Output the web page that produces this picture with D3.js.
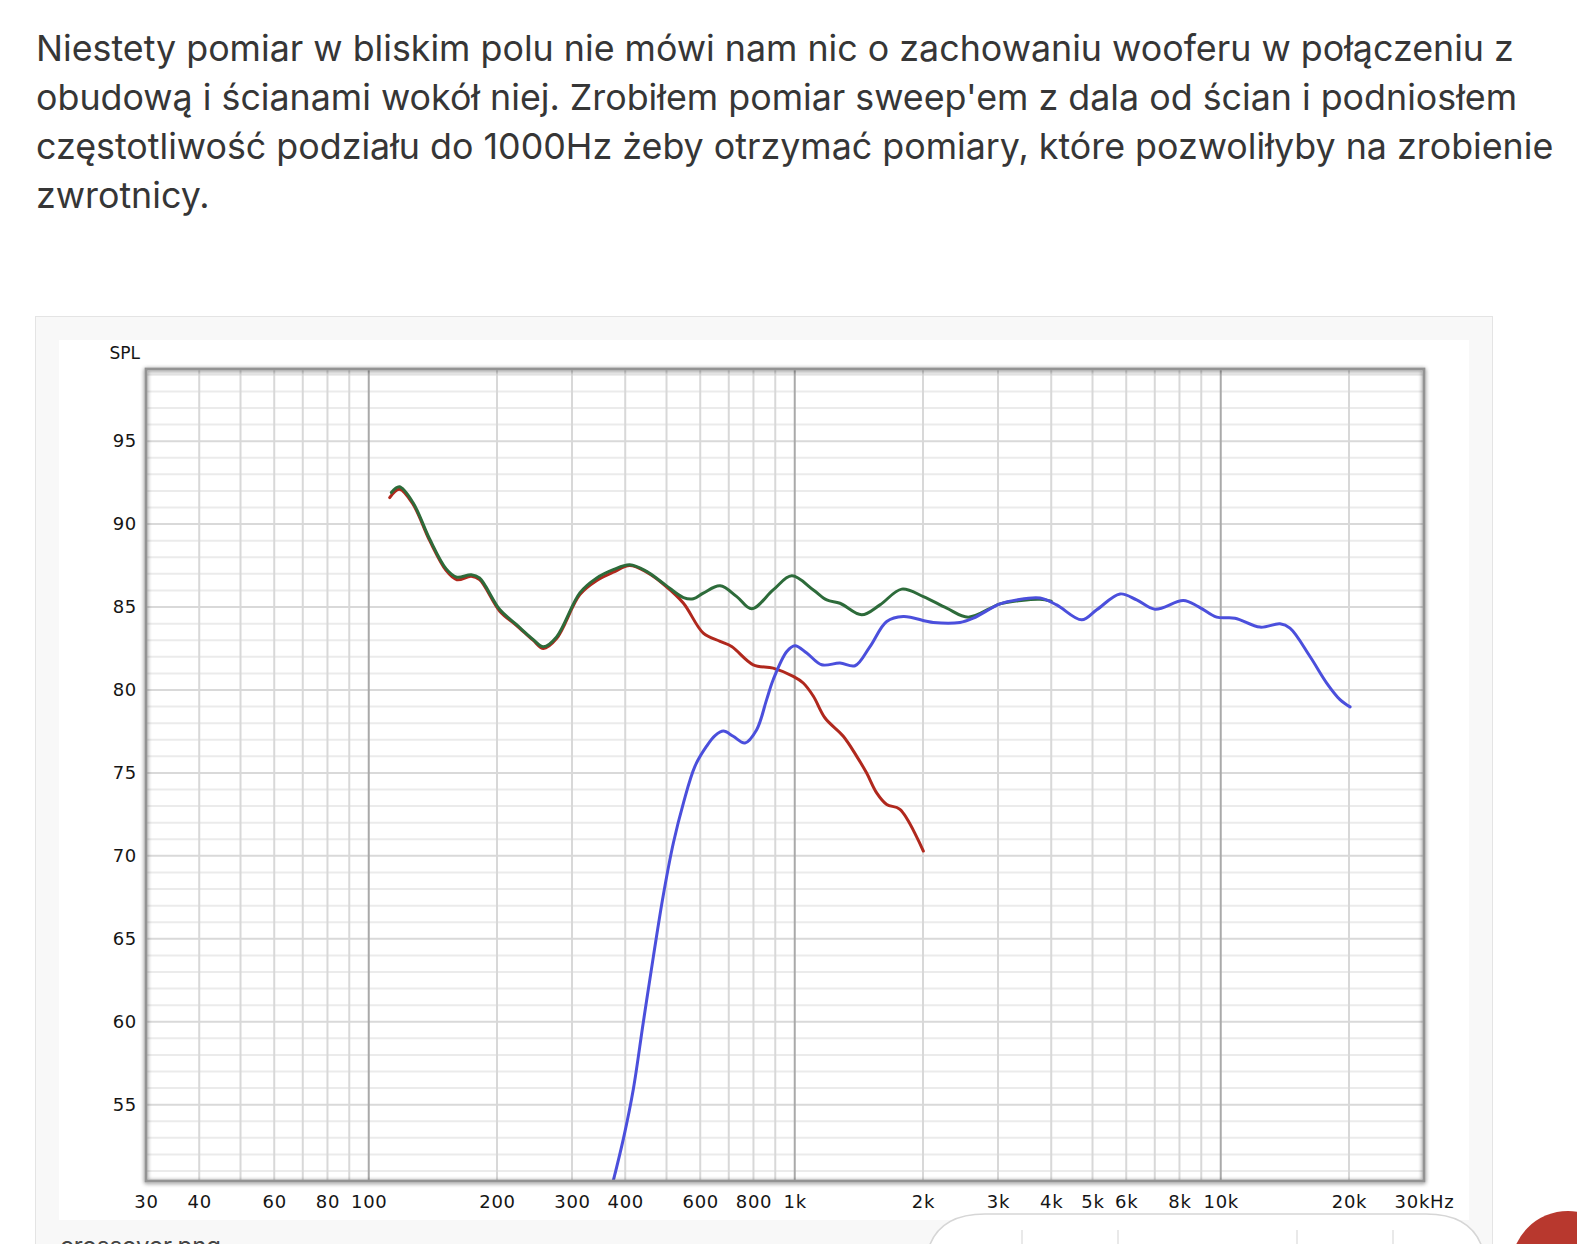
<!DOCTYPE html>
<html>
<head>
<meta charset="utf-8">
<script src="https://cdn.jsdelivr.net/npm/d3@7"></script>
<style>
  html, body { margin: 0; padding: 0; background: #ffffff; }
  svg { display: block; }
</style>
</head>
<body>
<svg id="chart" width="1577" height="1244"></svg>
<script>
// ---------- data ----------
const titleLines = [
  "Niestety pomiar w bliskim polu nie mówi nam nic o zachowaniu wooferu w połączeniu z",
  "obudową i ścianami wokół niej. Zrobiłem pomiar sweep'em z dala od ścian i podniosłem",
  "częstotliwość podziału do 1000Hz żeby otrzymać pomiary, które pozwoliłyby na zrobienie",
  "zwrotnicy."
];

const xTickValues = [30,40,60,80,100,200,300,400,600,800,1000,2000,3000,4000,5000,6000,8000,10000,20000,30000];
const xTickLabels = ["30","40","60","80","100","200","300","400","600","800","1k","2k","3k","4k","5k","6k","8k","10k","20k","30kHz"];
const minorGridFreqs = [40,50,60,70,80,90,200,300,400,500,600,700,800,900,2000,3000,4000,5000,6000,7000,8000,9000,20000];
const decadeGridFreqs = [100,1000,10000];
const yTickValues = [55,60,65,70,75,80,85,90,95];
const yTickLabels = ["55","60","65","70","75","80","85","90","95"];
const yAxisTitle = "SPL";

// red: woofer (lowpass)
const redFreq = [112,118,127,139,152,161,174,182,203,222,243,257,276,313,343,375,410,449,496,548,610,668,711,799,890,992,1047,1106,1178,1300,1398,1475,1557,1644,1766,2004];
const redSPL  = [91.6,92.1,91.2,89.0,87.2,86.65,86.85,86.65,84.75,83.9,83.0,82.5,83.1,85.75,86.6,87.1,87.5,87.1,86.3,85.23,83.43,82.93,82.62,81.52,81.32,80.82,80.42,79.62,78.31,77.21,76.0,74.99,73.8,73.1,72.8,70.29];

// green: summed response
const greenFreq = [113,118,127,139,152,161,174,182,203,222,243,257,276,313,343,375,410,449,496,548,578,610,668,731,792,890,984,1106,1189,1277,1436,1585,1783,2004,2274,2555,3033,3400,3765,4000];
const greenSPL  = [91.9,92.25,91.3,89.1,87.3,86.8,86.95,86.75,84.85,83.95,83.05,82.6,83.2,85.85,86.75,87.25,87.55,87.15,86.35,85.57,85.5,85.84,86.28,85.63,84.89,86.03,86.88,86.03,85.43,85.23,84.53,85.13,86.08,85.63,84.93,84.39,85.19,85.4,85.47,85.35];

// blue: tweeter (highpass)
const blueFreq = [374,396,418,441,466,491,519,548,583,621,650,680,717,764,814,859,890,958,1001,1067,1157,1277,1385,1502,1644,1798,2115,2443,2625,3033,3319,3765,4119,4717,5115,5801,6348,7008,8169,8856,9784,10797,12364,13777,14538,16200,17730,19050,20118];
const blueSPL  = [50.3,52.94,55.95,59.96,63.97,67.58,70.79,73.2,75.4,76.61,77.25,77.52,77.21,76.81,77.61,79.42,80.62,82.32,82.67,82.23,81.52,81.62,81.46,82.62,84.13,84.43,84.07,84.07,84.33,85.19,85.43,85.54,85.13,84.23,84.83,85.79,85.43,84.87,85.39,85.03,84.39,84.33,83.79,83.99,83.73,82.02,80.42,79.42,78.98];

// ---------- drawing ----------
const svg = d3.select("#chart");
const defs = svg.append("defs");

const shadow = defs.append("filter").attr("id","frameShadow")
  .attr("x","-5%").attr("y","-5%").attr("width","110%").attr("height","110%");
shadow.append("feGaussianBlur").attr("in","SourceAlpha").attr("stdDeviation",2.2).attr("result","b");
shadow.append("feOffset").attr("in","b").attr("dx",0).attr("dy",1).attr("result","o");
shadow.append("feComponentTransfer").attr("in","o").attr("result","s")
  .append("feFuncA").attr("type","linear").attr("slope",0.55);
const m = shadow.append("feMerge");
m.append("feMergeNode").attr("in","s");
m.append("feMergeNode").attr("in","SourceGraphic");

// title text
const title = svg.append("g")
  .attr("font-family","Inter, 'Open Sans', 'Noto Sans', sans-serif")
  .attr("fill","#363636");
const titleNodes = titleLines.map((t,i) => title.append("text")
  .attr("x",36).attr("y",61 + i*49).attr("font-size",33).text(t));
// fit font size so the longest line spans the measured width
const w3 = titleNodes[2].node().getComputedTextLength();
const fs = 33 * (1518 / w3);
titleNodes.forEach(n => n.attr("font-size", fs));

// card
svg.append("rect").attr("x",35.5).attr("y",316.5).attr("width",1457).attr("height",940)
  .attr("fill","#f8f8f8").attr("stroke","#e4e4e4");
svg.append("rect").attr("x",59).attr("y",340).attr("width",1410).attr("height",880)
  .attr("fill","#ffffff");

// scales
const x = d3.scaleLog().domain([30,30000]).range([146,1424]);
const y = d3.scaleLinear().domain([50.4,99.35]).range([1181,369]);
const [x0,x1] = x.range();
const [yb,yt] = y.range();

const grid = svg.append("g");
// horizontal grid
grid.selectAll("line.hmin").data(d3.range(51,100)).join("line")
  .attr("x1",x0).attr("x2",x1)
  .attr("y1",d=>y(d)).attr("y2",d=>y(d))
  .attr("stroke",d=> d%5===0 ? "#d9d9d9" : "#ebebeb")
  .attr("stroke-width",2);
// vertical grid
grid.selectAll("line.vmin").data(minorGridFreqs).join("line")
  .attr("x1",d=>x(d)).attr("x2",d=>x(d)).attr("y1",yt).attr("y2",yb)
  .attr("stroke","#d8d8d8").attr("stroke-width",2);
grid.selectAll("line.vdec").data(decadeGridFreqs).join("line")
  .attr("x1",d=>x(d)).attr("x2",d=>x(d)).attr("y1",yt).attr("y2",yb)
  .attr("stroke","#a9a9a9").attr("stroke-width",2);

// curves
defs.append("clipPath").attr("id","plotClip").append("rect")
  .attr("x",x0).attr("y",yt).attr("width",x1-x0).attr("height",yb-yt);
const line = d3.line().x(d=>x(d[0])).y(d=>y(d[1])).curve(d3.curveCatmullRom.alpha(0.5));
const curves = svg.append("g").attr("clip-path","url(#plotClip)")
  .attr("fill","none").attr("stroke-width",3).attr("stroke-linejoin","round").attr("stroke-linecap","round");
curves.append("path").datum(d3.zip(redFreq,redSPL)).attr("d",line).attr("stroke","#b0281d");
curves.append("path").datum(d3.zip(greenFreq,greenSPL)).attr("d",line).attr("stroke","#2d6b3a");
curves.append("path").datum(d3.zip(blueFreq,blueSPL)).attr("d",line).attr("stroke","#4b4fdc");

// frame
svg.append("rect").attr("x",x0).attr("y",yt).attr("width",x1-x0).attr("height",yb-yt)
  .attr("fill","none").attr("stroke","#939393").attr("stroke-width",2.8)
  .attr("filter","url(#frameShadow)");

// axes
const tickFont = "'DejaVu Sans', Verdana, sans-serif";
const xAxis = d3.axisBottom(x).tickValues(xTickValues)
  .tickFormat((d,i)=>xTickLabels[i]).tickSize(0).tickPadding(14);
const gx = svg.append("g").attr("transform",`translate(0,${yb})`).call(xAxis);
gx.select(".domain").remove();
gx.selectAll("text").attr("font-family",tickFont).attr("font-size",18)
  .attr("letter-spacing",0.7).attr("fill","#151515");

const yAxis = d3.axisLeft(y).tickValues(yTickValues)
  .tickFormat((d,i)=>yTickLabels[i]).tickSize(0).tickPadding(9);
const gy = svg.append("g").attr("transform",`translate(${x0},0)`).call(yAxis);
gy.select(".domain").remove();
gy.selectAll("text").attr("font-family",tickFont).attr("font-size",18)
  .attr("letter-spacing",0.7).attr("fill","#151515");

svg.append("text").attr("x",140).attr("y",359).attr("text-anchor","end")
  .attr("font-family",tickFont).attr("font-size",17).attr("fill","#151515").text(yAxisTitle);

// page chrome below the chart
svg.append("text").attr("x",60).attr("y",1254).attr("font-family","Inter, sans-serif")
  .attr("font-size",24).attr("fill","#444").text("crossover.png");
const r = 60, bx0 = 925, bx1 = 1486, by = 1214;
svg.append("path")
  .attr("d",`M${bx0},1260 L${bx0},${by+r} Q${bx0},${by} ${bx0+r},${by} L${bx1-r},${by} Q${bx1},${by} ${bx1},${by+r} L${bx1},1260`)
  .attr("fill","#ffffff").attr("stroke","#d6d6d6").attr("stroke-width",1.5);
svg.selectAll("line.sep").data([1022,1118,1297,1393]).join("line")
  .attr("x1",d=>d).attr("x2",d=>d).attr("y1",1230).attr("y2",1244)
  .attr("stroke","#e2e2e2").attr("stroke-width",1.5);
svg.append("circle").attr("cx",1568).attr("cy",1268).attr("r",57).attr("fill","#b8382e");
</script>
</body>
</html>
